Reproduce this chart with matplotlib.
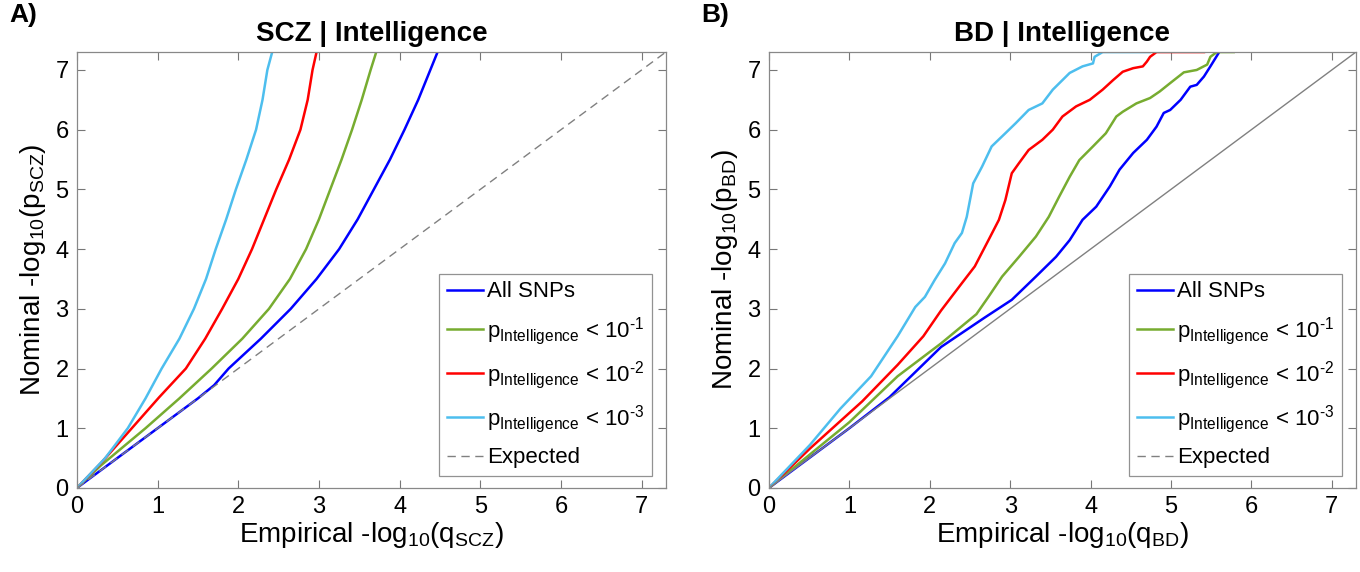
import numpy as np
import matplotlib
matplotlib.use("Agg")
import matplotlib.pyplot as plt

plt.rcParams['font.family'] = ['Liberation Sans', 'DejaVu Sans']
plt.rcParams['mathtext.fontset'] = 'custom'
plt.rcParams['mathtext.rm'] = 'Liberation Sans'
plt.rcParams['mathtext.default'] = 'regular'

# ---- panel A: SCZ | Intelligence (empirical x, nominal y)
scz_all_x = [0, 0.5, 1.0, 1.5, 1.70, 1.88, 2.28, 2.65, 2.97, 3.25, 3.48, 3.68, 3.88, 4.06, 4.23, 4.38, 4.47]
scz_all_y = [0, 0.5, 1.0, 1.5, 1.72, 2.0, 2.5, 3.0, 3.5, 4.0, 4.5, 5.0, 5.5, 6.0, 6.5, 7.0, 7.3]
scz_p1_x = [0, 0.3, 0.85, 1.27, 1.67, 2.05, 2.38, 2.64, 2.84, 3.00, 3.14, 3.28, 3.41, 3.53, 3.64, 3.71]
scz_p1_y = [0, 0.38, 1.0, 1.5, 2.0, 2.5, 3.0, 3.5, 4.0, 4.5, 5.0, 5.5, 6.0, 6.5, 7.0, 7.3]
scz_p2_x = [0, 0.3, 0.68, 1.02, 1.35, 1.59, 1.80, 2.0, 2.17, 2.32, 2.47, 2.63, 2.77, 2.86, 2.92, 2.97]
scz_p2_y = [0, 0.42, 1.0, 1.52, 2.0, 2.5, 3.0, 3.5, 4.0, 4.5, 5.0, 5.5, 6.0, 6.5, 7.0, 7.3]
scz_p3_x = [0, 0.35, 0.63, 0.85, 1.05, 1.27, 1.45, 1.60, 1.72, 1.85, 1.97, 2.10, 2.22, 2.30, 2.36, 2.42]
scz_p3_y = [0, 0.5, 1.0, 1.5, 2.0, 2.5, 3.0, 3.5, 4.0, 4.5, 5.0, 5.5, 6.0, 6.5, 7.0, 7.3]

# ---- panel B: BD | Intelligence
bd_all_x = [0, 1.0, 1.5, 2.14, 2.68, 3.02, 3.32, 3.57, 3.74, 3.90, 4.07, 4.24, 4.36, 4.53,
            4.70, 4.82, 4.91, 4.99, 5.12, 5.24, 5.32, 5.41, 5.49, 5.60]
bd_all_y = [0, 1.0, 1.52, 2.36, 2.85, 3.15, 3.54, 3.87, 4.15, 4.49, 4.71, 5.05, 5.33, 5.61,
            5.83, 6.05, 6.28, 6.33, 6.50, 6.72, 6.75, 6.89, 7.06, 7.3]
bd_p1_x = [0, 0.5, 1.0, 1.60, 2.14, 2.58, 2.73, 2.90, 3.11, 3.32, 3.48, 3.61, 3.74, 3.86,
           4.03, 4.19, 4.32, 4.40, 4.57, 4.74, 4.86, 4.99, 5.16, 5.32, 5.45, 5.49, 5.57, 5.78]
bd_p1_y = [0, 0.55, 1.1, 1.87, 2.42, 2.91, 3.20, 3.54, 3.87, 4.21, 4.54, 4.88, 5.21, 5.49,
           5.72, 5.94, 6.22, 6.30, 6.44, 6.53, 6.64, 6.78, 6.96, 7.0, 7.09, 7.22, 7.3, 7.3]
bd_p2_x = [0, 0.51, 1.16, 1.60, 1.92, 2.14, 2.27, 2.40, 2.56, 2.73, 2.86, 2.94, 3.02, 3.11,
           3.23, 3.40, 3.53, 3.65, 3.82, 3.99, 4.15, 4.28, 4.40, 4.53, 4.65, 4.70, 4.74,
           4.82, 5.41]
bd_p2_y = [0, 0.66, 1.45, 2.06, 2.54, 2.97, 3.20, 3.43, 3.71, 4.15, 4.49, 4.82, 5.27, 5.44,
           5.66, 5.83, 6.0, 6.22, 6.39, 6.50, 6.67, 6.83, 6.97, 7.03, 7.06, 7.14, 7.22,
           7.3, 7.3]
bd_p3_x = [0, 0.51, 0.89, 1.27, 1.60, 1.82, 1.94, 2.06, 2.19, 2.31, 2.40, 2.46, 2.54, 2.65,
           2.77, 2.94, 3.07, 3.23, 3.40, 3.53, 3.65, 3.74, 3.90, 4.03, 4.05, 4.15, 4.74]
bd_p3_y = [0, 0.72, 1.33, 1.87, 2.54, 3.03, 3.20, 3.48, 3.76, 4.10, 4.27, 4.54, 5.10, 5.38,
           5.72, 5.94, 6.11, 6.33, 6.44, 6.67, 6.83, 6.95, 7.06, 7.11, 7.22, 7.3, 7.3]

legend_labels = ['All SNPs',
                 'p$_{Intelligence}$ < 10$^{\u20101}$',
                 'p$_{Intelligence}$ < 10$^{\u20102}$',
                 'p$_{Intelligence}$ < 10$^{\u20103}$',
                 'Expected']
colors = ['#0000ff', '#77ac30', '#ff0000', '#4dbeee']
ticks = [0, 1, 2, 3, 4, 5, 6, 7]

fig = plt.figure(figsize=(13.6, 5.72), dpi=100)
axA = fig.add_axes([0.0566, 0.147, 0.433, 0.762])
axB = fig.add_axes([0.5654, 0.147, 0.4316, 0.762])

panels = [
    (axA, [(scz_all_x, scz_all_y), (scz_p1_x, scz_p1_y), (scz_p2_x, scz_p2_y), (scz_p3_x, scz_p3_y)],
     'SCZ | Intelligence', 'SCZ', 'A)', '--'),
    (axB, [(bd_all_x, bd_all_y), (bd_p1_x, bd_p1_y), (bd_p2_x, bd_p2_y), (bd_p3_x, bd_p3_y)],
     'BD | Intelligence', 'BD', 'B)', '-'),
]

for ax, series, title, tag, letter, exp_style in panels:
    handles = []
    for (xs, ys), c in zip(series, colors):
        h, = ax.plot(xs, ys, color=c, lw=1.8)
        handles.append(h)
    diag = np.array([0, 7.3])
    if exp_style == '--':
        ax.plot(diag, diag, color='#808080', lw=1.0, ls='--', dashes=(6, 4))
    else:
        ax.plot(diag, diag, color='#808080', lw=1.0)
    hexp, = ax.plot([], [], color='#808080', lw=1.0, ls='--', dashes=(6, 4))
    handles.append(hexp)
    ax.set_xlim(0, 7.3)
    ax.set_ylim(0, 7.3)
    ax.set_xticks(ticks)
    ax.set_yticks(ticks)
    ax.tick_params(direction='in', length=6, width=0.8, color='#777777', labelsize=17,
                   top=True, right=True, pad=6)
    for s in ax.spines.values():
        s.set_color('#888888')
        s.set_linewidth(0.9)
    ax.set_xlabel('Empirical -log$_{10}$(q$_{%s}$)' % tag, fontsize=20, labelpad=1)
    ax.set_ylabel('Nominal -log$_{10}$(p$_{%s}$)' % tag, fontsize=20, labelpad=5)
    ax.set_title(title, fontsize=20, fontweight='bold', pad=8)
    ax.text(-0.115, 1.085, letter, transform=ax.transAxes, fontsize=19, fontweight='bold',
            ha='left', va='center')
    leg = ax.legend(handles, legend_labels, loc='lower right', fontsize=16, frameon=True,
                    fancybox=False, edgecolor='#777777', handlelength=1.6, handletextpad=0.2,
                    labelspacing=0.55, borderpad=0.35, borderaxespad=0,
                    bbox_to_anchor=(0.977, 0.027))
    leg.get_frame().set_linewidth(0.9)

fig.savefig('out.png', dpi=100)
